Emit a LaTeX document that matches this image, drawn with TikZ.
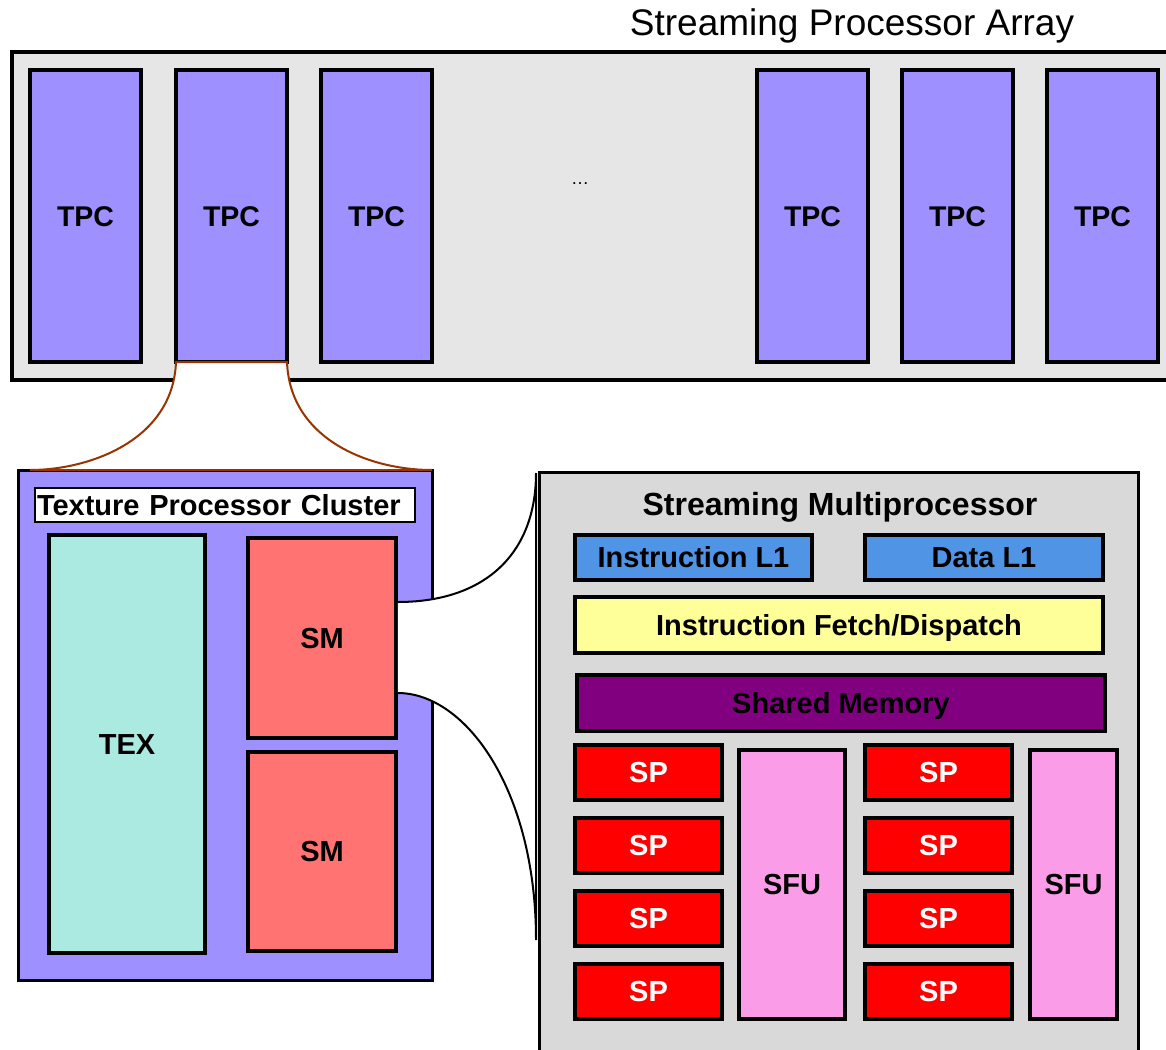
\documentclass[tikz,border=0pt]{standalone}
\usepackage{fontspec}
\setmainfont{Liberation Sans}
\usetikzlibrary{calc}
\definecolor{arrayfill}{RGB}{230,230,230}
\definecolor{tpcfill}{RGB}{159,144,255}
\definecolor{texfill}{RGB}{170,234,224}
\definecolor{smfill}{RGB}{255,115,115}
\definecolor{smboxfill}{RGB}{217,217,217}
\definecolor{lonefill}{RGB}{80,148,230}
\definecolor{fetchfill}{RGB}{255,255,153}
\definecolor{shmfill}{RGB}{128,0,128}
\definecolor{spfill}{RGB}{255,0,0}
\definecolor{sfufill}{RGB}{250,156,232}
\definecolor{linkbrown}{RGB}{153,51,0}
\begin{document}
\begin{tikzpicture}[x=1pt,y=-1pt,
  blk/.style={draw=black, line width=3.5pt, rectangle, inner sep=0pt, outer sep=0pt,
    anchor=north west, font=\fontsize{29}{31}\selectfont\bfseries},
  capc/.style={text height=20.8pt, text depth=0pt},
  tpcbox/.style={blk, capc, fill=tpcfill, minimum width=111pt, minimum height=292pt,
    font=\fontsize{28.5}{30}\selectfont\bfseries},
  spbox/.style={blk, capc, fill=spfill, text=white, minimum width=147pt, minimum height=55pt},
  sfubox/.style={blk, capc, fill=sfufill, minimum height=269pt},
  link/.style={line width=2pt},
]
\useasboundingbox (0,0) rectangle (1166,1049);

% Streaming processor array
\node[blk, fill=arrayfill, minimum width=1170pt, minimum height=328pt] (array) at (12,52) {};
\node[font=\fontsize{37}{40}\selectfont] (title) at (852,26) {Streaming Processor Array};
\node[font=\fontsize{18}{20}\selectfont] (dots) at (580,184) {\dots};
\node[tpcbox] (tpc1) at (30,70) {TPC};
\node[tpcbox] (tpc2) at (176,70) {TPC};
\node[tpcbox] (tpc3) at (321,70) {TPC};
\node[tpcbox] (tpc4) at (757,70) {TPC};
\node[tpcbox] (tpc5) at (902,70) {TPC};
\node[tpcbox] (tpc6) at (1047,70) {TPC};

% Texture processor cluster
\node[blk, line width=3pt, fill=tpcfill, minimum width=414pt, minimum height=510pt] (cluster) at (18,470) {};
\coordinate (cl) at ($(cluster.north west)+(12,0)$);
\coordinate (cr) at (cluster.north east);
\draw[link, draw=linkbrown, fill=white] (tpc2.south west) .. controls +(-3,78) and +(60,0) .. (cl)
  -- (cr) .. controls +(-62,0) and +(3,78) .. (tpc2.south east) -- cycle;
\node[blk, line width=2pt, fill=white, minimum height=34pt, text width=376pt,
  inner xsep=2pt, align=left] (tpclabel) at (35,488) {Texture Processor Cluster};
\node[blk, capc, fill=texfill, minimum width=156pt, minimum height=418pt] (tex) at (49,535) {TEX};

% Streaming multiprocessor (zoomed)
\node[blk, capc, fill=smfill, minimum width=148pt, minimum height=200pt] (sm1) at (248,538) {SM};
\node[blk, capc, fill=smfill, minimum width=148pt, minimum height=199pt] (sm2) at (248,752) {SM};
\coordinate (ca) at (536,473);
\coordinate (cb) at (536,940);
\coordinate (pa) at ($(sm1.north east)+(1.75,64)$);
\coordinate (pb) at ($(sm1.north east)+(1.75,155)$);
\fill[white] (pa) .. controls +(88,0) and +(0,80) .. (ca)
  -- (cb) .. controls +(0,-150) and +(68,0) .. (pb) -- cycle;
\draw[link] (pa) .. controls +(88,0) and +(0,80) .. (ca)
  -- (cb) .. controls +(0,-150) and +(68,0) .. (pb);

\node[blk, line width=3pt, fill=smboxfill, minimum width=599pt, minimum height=580pt] (smbox) at (539,472) {};
\node[font=\fontsize{32}{34}\selectfont\bfseries] (smtitle) at (840,507) {Streaming Multiprocessor};
\node[blk, fill=lonefill, minimum width=237pt, minimum height=45pt] (il1) at (575,535) {Instruction L1};
\node[blk, fill=lonefill, minimum width=238pt, minimum height=45pt] (dl1) at (865,535) {Data L1};
\node[blk, capc, fill=fetchfill, minimum width=528pt, minimum height=56pt] (fetch) at (575,597) {Instruction Fetch/Dispatch};
\node[blk, capc, fill=shmfill, minimum width=528pt, minimum height=56pt] (shm) at (577,675) {Shared Memory};
\node[spbox] (spa1) at (575,745) {SP};
\node[spbox] (spa2) at (575,818) {SP};
\node[spbox] (spa3) at (575,891) {SP};
\node[spbox] (spa4) at (575,964) {SP};
\node[spbox] (spb1) at (865,745) {SP};
\node[spbox] (spb2) at (865,818) {SP};
\node[spbox] (spb3) at (865,891) {SP};
\node[spbox] (spb4) at (865,964) {SP};
\node[sfubox, minimum width=106pt] (sfu1) at (739,750) {SFU};
\node[sfubox, minimum width=87pt] (sfu2) at (1030,750) {SFU};
\end{tikzpicture}
\end{document}
